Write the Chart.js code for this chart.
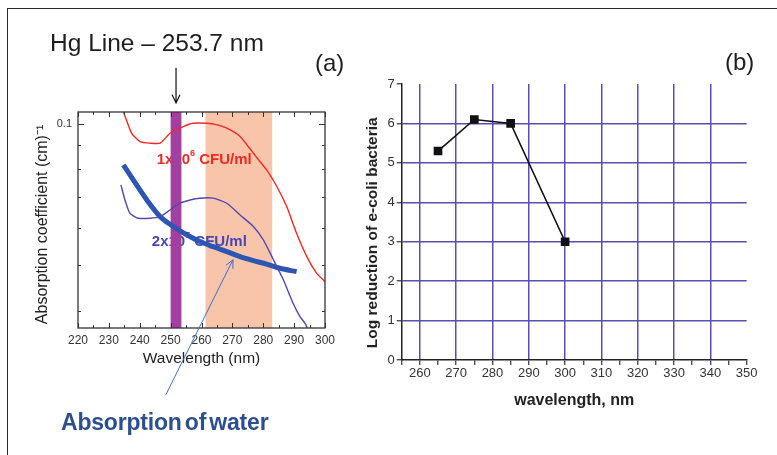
<!DOCTYPE html>
<html>
<head>
<meta charset="utf-8">
<script src="https://cdn.jsdelivr.net/npm/chart.js@4/dist/chart.umd.min.js"></script>
<style>
  html, body { margin: 0; padding: 0; background: #fff; overflow: hidden; }
  body { width: 777px; height: 455px; position: relative; font-family: "Liberation Sans", Arial, sans-serif; }
  #frame { position: absolute; left: 7px; top: 8px; width: 800px; height: 480px; border: 1.5px solid #2a2a2a; box-sizing: border-box; }
  canvas { position: absolute; top: 0; }
  #spectra { left: 0; }
  #kill { left: 360px; }
  .note { position: absolute; white-space: nowrap; line-height: 1; }
</style>
</head>
<body>
<div id="frame"></div>
<canvas id="spectra" width="360" height="455" style="width:360px;height:455px"></canvas>
<canvas id="kill" width="417" height="455" style="width:417px;height:455px"></canvas>
<div class="note" style="left:50px;top:31px;font-size:24.5px;color:#1e1e1e;">Hg Line – 253.7 nm</div>
<div class="note" style="left:315px;top:51px;font-size:24px;color:#1e1e1e;">(a)</div>
<div class="note" style="left:725px;top:50px;font-size:24px;color:#1e1e1e;">(b)</div>
<div class="note" style="left:61px;top:411px;font-size:23px;font-weight:bold;color:#2d4f8e;word-spacing:-3px;letter-spacing:-0.2px;">Absorption of water</div>

<script>
// ---------- panel (a): absorption spectra ----------
const spectraTicks = [220, 225, 230, 235, 240, 245, 250, 255, 260, 265, 270, 275, 280, 285, 290, 295, 300];
const spectraTickLabels = ['220', '', '230', '', '240', '', '250', '', '260', '', '270', '', '280', '', '290', '', '300'];
const absorptionTicks = [0.1, 0.09, 0.08, 0.07, 0.06, 0.05, 0.04];
const absorptionTickLabels = ['0.1', '', '', '', '', '', ''];

// bacteria suspension, 1x10^6 CFU/ml
const highCfuWavelength = [234.3, 234.7, 237.4, 240.1, 243.3, 246.6, 249.8, 254.1, 257.3, 261.7, 264.5, 268.2, 272.5, 276.8, 281.1, 284.4, 287.6, 290.8, 294.1, 297.3, 299.4, 300];
const highCfuAbsorption = [0.108, 0.1062, 0.0955, 0.0917, 0.0910, 0.0910, 0.0955, 0.0987, 0.1003, 0.1003, 0.0998, 0.0979, 0.0940, 0.0866, 0.0798, 0.0736, 0.0667, 0.0585, 0.0522, 0.0481, 0.0466, 0.0462];

// bacteria suspension, 2x10^5 CFU/ml
const lowCfuWavelength = [233.9, 235.2, 236.8, 239.5, 243.3, 246.6, 249.8, 253.0, 256.3, 259.5, 263.8, 268.2, 272.5, 276.8, 280.0, 283.3, 286.5, 289.7, 291.9, 293.5, 294.6];
const lowCfuAbsorption = [0.0742, 0.0689, 0.0646, 0.0630, 0.0630, 0.0635, 0.0656, 0.0678, 0.0689, 0.0695, 0.0695, 0.0678, 0.0640, 0.0605, 0.0567, 0.0514, 0.0466, 0.0415, 0.0389, 0.0377, 0.0364];

// absorption of water
const waterWavelength = [234.7, 237.9, 242.3, 246.6, 250.9, 255.2, 259.5, 263.8, 268.2, 272.5, 276.8, 281.1, 285.4, 290.8];
const waterAbsorption = [0.0818, 0.0760, 0.0689, 0.0635, 0.0605, 0.0581, 0.0562, 0.0548, 0.0535, 0.0522, 0.0512, 0.0503, 0.0493, 0.0485];

// highlighted wavelength ranges (nm)
const hgBand = [250.0, 253.5];
const uvcBand = [261.3, 282.9];

// ---------- panel (b): log reduction vs wavelength ----------
const killWavelength = [265, 275, 285, 300];
const logReduction = [5.3, 6.1, 6.0, 3.0];
const killTicks = [255, 260, 265, 270, 275, 280, 285, 290, 295, 300, 305, 310, 315, 320, 325, 330, 335, 340, 345, 350];
const killTickLabels = ['', '260', '', '270', '', '280', '', '290', '', '300', '', '310', '', '320', '', '330', '', '340', '', '350'];
const reductionTicks = [0, 1, 2, 3, 4, 5, 6, 7];
const reductionTickLabels = ['0', '1', '2', '3', '4', '5', '6', '7'];

const FONT = '"Liberation Sans", Arial, sans-serif';
Chart.defaults.font.family = FONT;

const pairs = (xs, ys) => xs.map((x, i) => ({ x, y: ys[i] }));

// annotation placement for panel (a), in data units
const spectraNotes = {
  high: { x: 245.5, y: 0.0838, color: '#ee2a24', base: '1x10', sup: '6', rest: ' CFU/ml' },
  low:  { x: 243.9, y: 0.0562, color: '#4a46b0', base: '2x10', sup: '5', rest: ' CFU/ml' },
  hgArrow:    { x: 251.75, from: 0.1316, to: 0.1108 },
  waterArrow: { from: [248.4, 0.0265], to: [270.2, 0.0514] }
};

function drawLabel(ctx, note, xs, ys) {
  const px = xs.getPixelForValue(note.x);
  const py = ys.getPixelForValue(note.y);
  ctx.save();
  ctx.fillStyle = note.color;
  ctx.textBaseline = 'middle';
  ctx.textAlign = 'left';
  ctx.font = 'bold 15px ' + FONT;
  ctx.fillText(note.base, px, py);
  let w = ctx.measureText(note.base).width;
  ctx.font = 'bold 9px ' + FONT;
  ctx.fillText(note.sup, px + w, py - 6);
  w += ctx.measureText(note.sup).width;
  ctx.font = 'bold 15px ' + FONT;
  ctx.fillText(note.rest, px + w, py);
  ctx.restore();
}

function arrow(ctx, x1, y1, x2, y2, color, width, head) {
  ctx.save();
  ctx.strokeStyle = color;
  ctx.lineWidth = width;
  ctx.beginPath();
  ctx.moveTo(x1, y1);
  ctx.lineTo(x2, y2);
  const ang = Math.atan2(y2 - y1, x2 - x1);
  ctx.moveTo(x2 - head * Math.cos(ang - 0.45), y2 - head * Math.sin(ang - 0.45));
  ctx.lineTo(x2, y2);
  ctx.lineTo(x2 - head * Math.cos(ang + 0.45), y2 - head * Math.sin(ang + 0.45));
  ctx.stroke();
  ctx.restore();
}

const spectraDecor = {
  id: 'spectraDecor',
  beforeDatasetsDraw(chart) {
    const { ctx, chartArea: a, scales: { x, y } } = chart;
    ctx.save();
    ctx.fillStyle = '#f8c4aa';
    const u0 = x.getPixelForValue(uvcBand[0]), u1 = x.getPixelForValue(uvcBand[1]);
    ctx.fillRect(u0, a.top, u1 - u0, a.bottom - a.top);
    ctx.restore();
    drawLabel(ctx, spectraNotes.high, x, y);
    drawLabel(ctx, spectraNotes.low, x, y);
    ctx.save();
    ctx.fillStyle = '#a3409f';
    const h0 = x.getPixelForValue(hgBand[0]), h1 = x.getPixelForValue(hgBand[1]);
    ctx.fillRect(h0, a.top, h1 - h0, a.bottom - a.top);
    ctx.restore();
  },
  afterDraw(chart) {
    const { ctx, chartArea: a, scales: { x, y } } = chart;
    ctx.save();
    ctx.strokeStyle = '#333';
    ctx.lineWidth = 1.3;
    ctx.strokeRect(a.left, a.top, a.right - a.left, a.bottom - a.top);
    ctx.lineWidth = 1;
    ctx.beginPath();
    spectraTicks.forEach((v, i) => {
      const px = Math.round(x.getPixelForValue(v)) + 0.5;
      const len = spectraTickLabels[i] ? 5 : 3;
      ctx.moveTo(px, a.bottom); ctx.lineTo(px, a.bottom - len);
      ctx.moveTo(px, a.top); ctx.lineTo(px, a.top + len);
    });
    absorptionTicks.forEach((v, i) => {
      const py = Math.round(y.getPixelForValue(v)) + 0.5;
      const len = absorptionTickLabels[i] ? 6 : 3;
      ctx.moveTo(a.left, py); ctx.lineTo(a.left + len, py);
      ctx.moveTo(a.right, py); ctx.lineTo(a.right - len, py);
    });
    ctx.stroke();
    ctx.restore();

    const hx = x.getPixelForValue(spectraNotes.hgArrow.x);
    arrow(ctx, hx, y.getPixelForValue(spectraNotes.hgArrow.from), hx, y.getPixelForValue(spectraNotes.hgArrow.to), '#111', 1.2, 9);
    const wa = spectraNotes.waterArrow;
    arrow(ctx, x.getPixelForValue(wa.from[0]), y.getPixelForValue(wa.from[1]),
               x.getPixelForValue(wa.to[0]), y.getPixelForValue(wa.to[1]), '#3d6fc2', 1, 9);
  }
};

new Chart(document.getElementById('spectra'), {
  type: 'line',
  data: {
    datasets: [
      { data: pairs(highCfuWavelength, highCfuAbsorption), borderColor: '#ee2a24', borderWidth: 1.4, pointRadius: 0, tension: 0.2 },
      { data: pairs(lowCfuWavelength, lowCfuAbsorption), borderColor: '#4f48b2', borderWidth: 1.4, pointRadius: 0, tension: 0.2 },
      { data: pairs(waterWavelength, waterAbsorption), borderColor: '#2c55b4', borderWidth: 5, pointRadius: 0, cubicInterpolationMode: 'monotone' }
    ]
  },
  options: {
    responsive: false,
    animation: false,
    events: [],
    plugins: { legend: { display: false }, tooltip: { enabled: false } },
    layout: { padding: { left: 0, top: 112, right: 35, bottom: 0 } },
    scales: {
      x: {
        type: 'linear', min: 220, max: 300,
        afterFit(s) { s.height = 127; },
        afterBuildTicks(s) { s.ticks = spectraTicks.map(v => ({ value: v })); },
        grid: { display: false, drawTicks: false },
        border: { display: false },
        ticks: { callback: (v, i) => spectraTickLabels[i], autoSkip: false, maxRotation: 0, padding: 5, color: '#333', font: { size: 12 } },
        title: { display: true, text: 'Wavelength (nm)', color: '#222', font: { size: 15.5 }, padding: { top: 0, bottom: 86.5 } }
      },
      y: {
        type: 'logarithmic', min: 0.0368, max: 0.106,
        afterFit(s) { s.width = 78; },
        afterBuildTicks(s) { s.ticks = absorptionTicks.map(v => ({ value: v })); },
        grid: { display: false, drawTicks: false },
        border: { display: false },
        ticks: { callback: (v, i) => absorptionTickLabels[i], autoSkip: false, padding: 6, color: '#333', font: { size: 11 } },
        title: { display: true, text: 'Absorption coefficient (cm)⁻¹  ', color: '#222', font: { size: 16 }, padding: { top: 32.5, bottom: 0 } }
      }
    }
  },
  plugins: [spectraDecor]
});

// ---------- panel (b) ----------
const GRID = '#5a4db4';
new Chart(document.getElementById('kill'), {
  type: 'line',
  data: {
    datasets: [{
      data: pairs(killWavelength, logReduction),
      borderColor: '#111', backgroundColor: '#111', borderWidth: 1.6,
      pointStyle: 'rect', pointRadius: 5, tension: 0
    }]
  },
  options: {
    responsive: false,
    animation: false,
    events: [],
    plugins: { legend: { display: false }, tooltip: { enabled: false } },
    layout: { padding: { left: 0, top: 84, right: 30.3, bottom: 0 } },
    scales: {
      x: {
        type: 'linear', min: 255, max: 350,
        afterFit(s) { s.height = 95; },
        afterBuildTicks(s) { s.ticks = killTicks.map(v => ({ value: v })); },
        grid: {
          color: c => (c.tick && c.tick.value % 10 === 0 && c.tick.value >= 260 && c.tick.value < 350) ? GRID : 'rgba(0,0,0,0)',
          lineWidth: 1.5, tickColor: '#333', tickLength: 5, tickWidth: 1.2
        },
        border: { color: '#222', width: 1.5 },
        ticks: { callback: (v, i) => killTickLabels[i], autoSkip: false, maxRotation: 0, padding: 1, color: '#333', font: { size: 13 } },
        title: { display: true, text: 'wavelength, nm', color: '#222', font: { size: 16, weight: 'bold' }, padding: { top: 0, bottom: 44.5 } }
      },
      y: {
        type: 'linear', min: 0, max: 7,
        afterFit(s) { s.width = 41.7; },
        afterBuildTicks(s) { s.ticks = reductionTicks.map(v => ({ value: v })); },
        grid: {
          color: c => (c.tick && c.tick.value > 0 && c.tick.value < 7) ? GRID : 'rgba(0,0,0,0)',
          lineWidth: 1.5, tickColor: '#333', tickLength: 5, tickWidth: 1.2
        },
        border: { color: '#222', width: 1.5 },
        ticks: { callback: (v, i) => reductionTickLabels[i], autoSkip: false, padding: 2, color: '#333', font: { size: 13 } },
        title: { display: true, text: 'Log reduction of e-coli bacteria     ', color: '#222', font: { size: 15.5, weight: 'bold' }, padding: { top: 3.7, bottom: 0 } }
      }
    }
  }
});
</script>
</body>
</html>
